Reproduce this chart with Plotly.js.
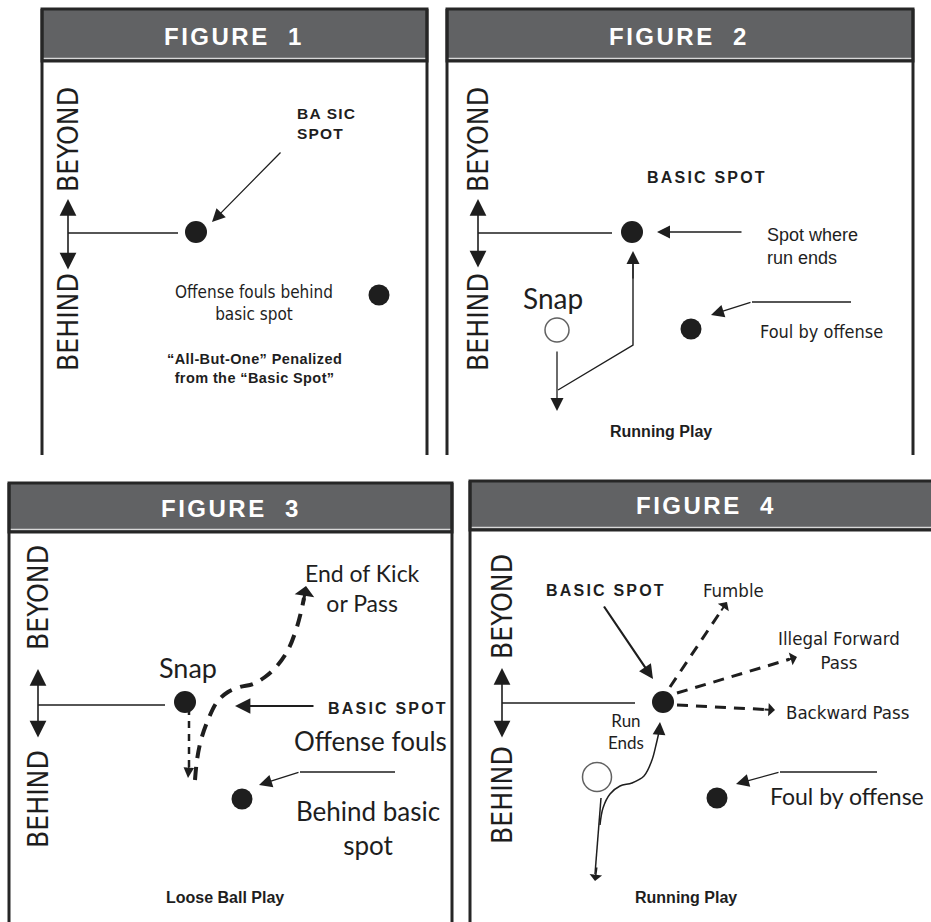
<!DOCTYPE html>
<html>
<head>
<meta charset="utf-8">
<script src="https://cdn.plot.ly/plotly-3.0.1.min.js"></script>
<style>html,body{margin:0;padding:0;background:#fff;}#chart{width:931px;height:922px;}</style>
</head>
<body>
<div id="chart"></div>
<script>
// ---------- data ----------
const figureTitles = ['FIGURE&nbsp;&nbsp;1', 'FIGURE&nbsp;&nbsp;2', 'FIGURE&nbsp;&nbsp;3', 'FIGURE&nbsp;&nbsp;4'];
const captions = ['“All-But-One” Penalized<br>from the “Basic Spot”', 'Running Play', 'Loose Ball Play', 'Running Play'];
const axisWords = ['BEYOND', 'BEHIND'];
// basic spot dots (filled)
const basicSpotX = [196, 632, 185, 663];
const basicSpotY = [232, 232, 702, 702];
// foul dots (filled)
const foulX = [379, 691, 242, 717];
const foulY = [295, 329, 799, 798];
// snap (open circles)
const snapX = [557, 597];
const snapY = [330, 777];
// figure 3 dashed paths
const fig3DropX = [189, 189];
const fig3DropY = [708, 770];
const fig3KickX = [195, 197, 201, 208, 217, 228, 240, 253, 265, 277, 288, 296, 301, 304];
const fig3KickY = [780, 760, 740, 720, 702, 692, 687, 684, 677, 666, 650, 630, 612, 598];
// figure 4 run path
const fig4DropX = [601, 595];
const fig4DropY = [798, 874];
const fig4RunX = [600, 603, 610, 620, 632, 644, 652, 656, 659];
const fig4RunY = [825, 808, 794, 786, 783, 776, 760, 745, 732];
// figure 2 run path
const fig2RunX = [558, 633, 633];
const fig2RunY = [390, 345, 262];

// ---------- helpers ----------
const INK = '#1e1e1e';
const shapes = [];
const ann = [];
function seg(x0, y0, x1, y1, w, c) {
  shapes.push({type: 'line', xref: 'x', yref: 'y', x0, y0, x1, y1, line: {color: c || INK, width: w || 1.3}});
}
function arrow(x0, y0, x1, y1, o) {
  o = o || {};
  ann.push(Object.assign({
    x: x1, y: y1, ax: x0, ay: y0, xref: 'x', yref: 'y', axref: 'x', ayref: 'y',
    text: '', showarrow: true, arrowhead: 2, arrowsize: 1.4, arrowwidth: 1.3,
    arrowcolor: INK, standoff: 0, startstandoff: 0
  }, o));
}
function txt(x, y, t, font, o) {
  ann.push(Object.assign({x, y, xref: 'x', yref: 'y', text: t, showarrow: false, font: Object.assign({color: INK}, font)}, o || {}));
}
const NARROW = '"Liberation Sans Narrow", "Arial Narrow", "DejaVu Sans Condensed", sans-serif';
const ARIAL = '"Liberation Sans", Arial, sans-serif';
const CALI = 'Lato, "Open Sans", sans-serif';
function spaced(s, px) { return '<span style="letter-spacing:' + px + 'px">' + s + '</span>'; }

// ---------- panels ----------
const panels = [
  {l: 42, r: 427, t: 9, hb: 61, b: 455, tx: 234, ty: 36},
  {l: 447, r: 913, t: 9, hb: 61, b: 455, tx: 679, ty: 36},
  {l: 9, r: 452, t: 483, hb: 532, b: 930, tx: 231, ty: 508},
  {l: 470, r: 940, t: 481, hb: 530, b: 930, tx: 706, ty: 505}
];
panels.forEach((p, i) => {
  shapes.push({type: 'rect', xref: 'x', yref: 'y', x0: p.l, x1: p.r, y0: p.t, y1: p.hb,
    fillcolor: '#616264', line: {color: '#262626', width: 3}, layer: 'below'});
  seg(p.l + 1.5, p.hb - 2.6, p.r - 1.5, p.hb - 2.6, 1.2, '#d8d8d8');
  seg(p.l, p.t, p.l, p.b, 3, '#262626');
  seg(p.r, p.t, p.r, p.b, 3, '#262626');
  txt(p.tx, p.ty, '<b>' + spaced(figureTitles[i], 2.5) + '</b>', {family: ARIAL, size: 24, color: '#ffffff'});
});

// vertical BEYOND / BEHIND axes
const axes = [
  {x: 68, a0: 199, a1: 271, ly: 233, lx: 178, by: 140, hy: 322},
  {x: 478, a0: 199, a1: 269, ly: 233, lx: 612, by: 140, hy: 322},
  {x: 38, a0: 669, a1: 739, ly: 705, lx: 165, by: 598, hy: 799},
  {x: 502, a0: 668, a1: 739, ly: 703, lx: 635, by: 607, hy: 795}
];
axes.forEach(a => {
  arrow(a.x, a.a1, a.x, a.a0, {arrowside: 'end+start', startarrowhead: 2, arrowsize: 2.1, startarrowsize: 2.1, arrowwidth: 1.6});
  seg(a.x, a.ly, a.lx, a.ly, 1.3);
  txt(a.x, a.by, axisWords[0], {family: NARROW, size: 28}, {textangle: -90});
  txt(a.x, a.hy, axisWords[1], {family: NARROW, size: 28}, {textangle: -90});
});

// ---------- figure 1 ----------
arrow(282, 151, 212, 222, {arrowhead: 2, arrowsize: 2, arrowwidth: 1.3});
txt(295, 123, '<b>' + spaced('BA SIC', 1.2) + '<br>' + spaced('SPOT', 1.2) + '</b>', {family: ARIAL, size: 15.5}, {xanchor: 'left', align: 'left'});
txt(254, 303, 'Offense fouls behind<br>basic spot', {family: NARROW, size: 17});
txt(254, 368, '<b>' + spaced(captions[0], 0.4) + '</b>', {family: ARIAL, size: 14.5});

// ---------- figure 2 ----------
txt(707, 177, '<b>' + spaced('BASIC SPOT', 2.2) + '</b>', {family: ARIAL, size: 16});
arrow(743, 232, 657, 232, {arrowsize: 2});
txt(765, 246, 'Spot where<br>run ends', {family: ARIAL, size: 18}, {xanchor: 'left', align: 'left'});
txt(553, 298, 'Snap', {family: CALI, size: 28});
arrow(557, 350, 557, 411, {arrowsize: 2});
arrow(633, 280, 633, 251, {arrowsize: 2});
seg(851, 302, 752, 302, 1.3);
arrow(752, 302, 711, 315, {arrowsize: 2});
txt(821, 331, 'Foul by offense', {family: NARROW, size: 18});
txt(661, 431, '<b>' + captions[1] + '</b>', {family: ARIAL, size: 16});

// ---------- figure 3 ----------
txt(188, 667, 'Snap', {family: CALI, size: 27});
txt(362, 588, 'End of Kick<br>or Pass', {family: CALI, size: 23});
arrow(303, 605, 306, 586, {arrowhead: 1, arrowsize: 1.1, arrowwidth: 3});
arrow(189, 765, 188, 778, {arrowhead: 2, arrowsize: 1.4, arrowwidth: 1.5});
arrow(315, 706, 235, 706, {arrowsize: 1.4, arrowwidth: 2.2});
txt(388, 708, '<b>' + spaced('BASIC SPOT', 2.2) + '</b>', {family: ARIAL, size: 16});
txt(370, 741, 'Offense fouls', {family: CALI, size: 26});
seg(395, 772, 300, 772, 1.3);
arrow(300, 772, 259, 785, {arrowsize: 2});
txt(368, 828, 'Behind basic<br>spot', {family: CALI, size: 26});
txt(225, 897, '<b>' + captions[2] + '</b>', {family: ARIAL, size: 16});

// ---------- figure 4 ----------
txt(606, 590, '<b>' + spaced('BASIC SPOT', 2.2) + '</b>', {family: ARIAL, size: 16});
arrow(603, 605, 653, 679, {arrowsize: 1.3, arrowwidth: 2.2});
txt(733, 590, 'Fumble', {family: NARROW, size: 18.5});
txt(839, 650, 'Illegal Forward<br>Pass', {family: NARROW, size: 18.5});
txt(847, 712, 'Backward Pass', {family: NARROW, size: 18.5});
const fanEnds = [[670, 687, 727, 602], [677, 693, 797, 657], [677, 705, 775, 710]];
txt(626, 731, 'Run<br>Ends', {family: CALI, size: 17});
arrow(597, 866, 595, 881, {arrowhead: 1, arrowsize: 1.4, arrowwidth: 1.5});
arrow(659, 735, 660, 722, {arrowhead: 2, arrowsize: 1.7, arrowwidth: 1.5});
seg(877, 772, 780, 772, 1.3);
arrow(780, 772, 736, 784, {arrowsize: 2});
txt(847, 796, 'Foul by offense', {family: CALI, size: 23});
txt(686, 897, '<b>' + captions[3] + '</b>', {family: ARIAL, size: 16});

// ---------- traces ----------
const base = {mode: 'lines', hoverinfo: 'skip', showlegend: false, cliponaxis: false};
const traces = [];
traces.push(Object.assign({}, base, {x: fig2RunX, y: fig2RunY, line: {color: INK, width: 1.4}}));
traces.push(Object.assign({}, base, {x: fig3DropX, y: fig3DropY, line: {color: INK, width: 2.5, dash: '7px,6px'}}));
traces.push(Object.assign({}, base, {x: fig3KickX, y: fig3KickY, line: {color: INK, width: 4, dash: '13px,9px', shape: 'spline'}}));
traces.push(Object.assign({}, base, {x: fig4DropX, y: fig4DropY, line: {color: INK, width: 1.5}}));
traces.push(Object.assign({}, base, {x: fig4RunX, y: fig4RunY, line: {color: INK, width: 1.5, shape: 'spline'}}));
fanEnds.forEach(f => {
  const dx = f[2] - f[0], dy = f[3] - f[1], L = Math.hypot(dx, dy);
  const ex = f[2] - dx / L * 8, ey = f[3] - dy / L * 8;
  traces.push(Object.assign({}, base, {x: [f[0], ex], y: [f[1], ey], line: {color: INK, width: 3, dash: '11px,8px'}}));
  arrow(ex - dx / L * 4, ey - dy / L * 4, f[2], f[3], {arrowhead: 1, arrowsize: 1.1, arrowwidth: 2});
});
traces.push({type: 'scatter', mode: 'markers', x: basicSpotX, y: basicSpotY, hoverinfo: 'skip', showlegend: false, cliponaxis: false,
  marker: {color: INK, size: 22, line: {width: 0}}});
traces.push({type: 'scatter', mode: 'markers', x: foulX, y: foulY, hoverinfo: 'skip', showlegend: false, cliponaxis: false,
  marker: {color: INK, size: 21, line: {width: 0}}});
traces.push({type: 'scatter', mode: 'markers', x: snapX, y: snapY, hoverinfo: 'skip', showlegend: false, cliponaxis: false,
  marker: {symbol: 'circle-open', color: INK, size: [24, 29], line: {width: 1.5, color: INK}}});

const layout = {
  width: 931, height: 922,
  margin: {l: 0, r: 0, t: 0, b: 0},
  paper_bgcolor: '#ffffff', plot_bgcolor: '#ffffff',
  xaxis: {range: [0, 931], visible: false, fixedrange: true},
  yaxis: {range: [922, 0], visible: false, fixedrange: true},
  shapes: shapes, annotations: ann, showlegend: false
};
Plotly.newPlot('chart', traces, layout, {staticPlot: true, displayModeBar: false});
</script>
</body>
</html>
